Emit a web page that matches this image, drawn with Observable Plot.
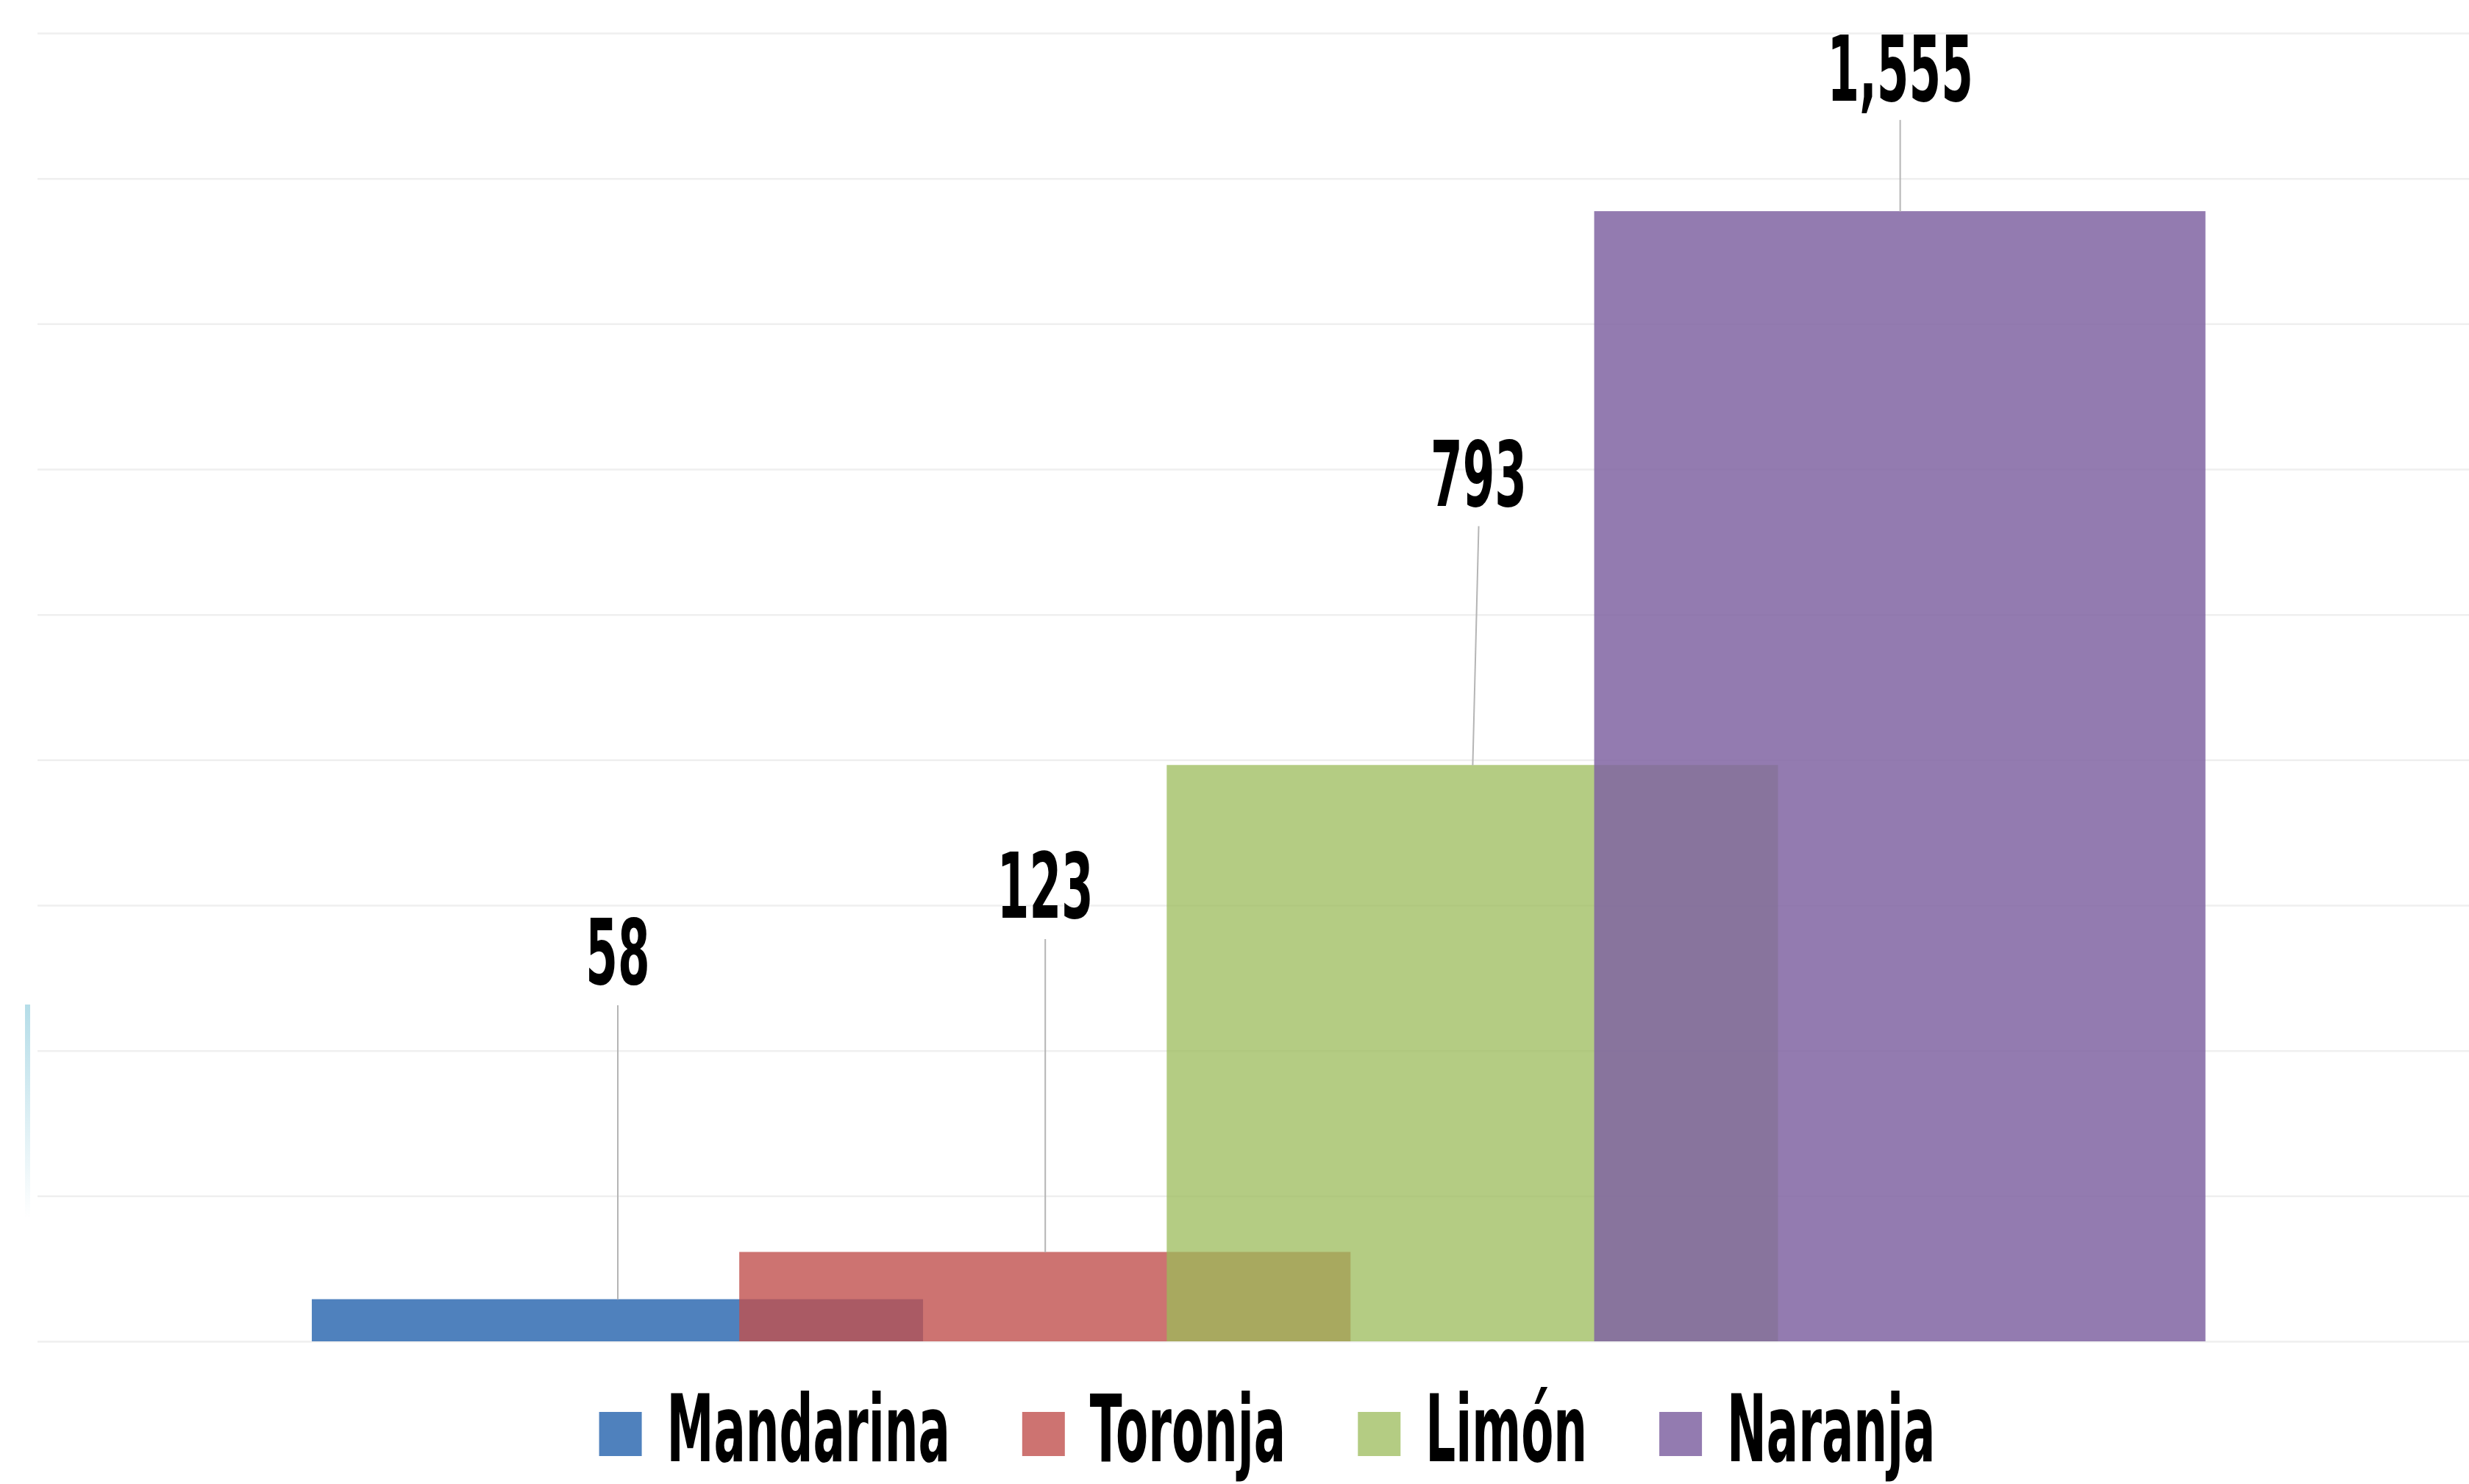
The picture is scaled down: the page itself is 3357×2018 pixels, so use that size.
<!DOCTYPE html>
<html><head><meta charset="utf-8">
<script src="https://cdn.jsdelivr.net/npm/d3@7"></script>
<script src="https://cdn.jsdelivr.net/npm/@observablehq/plot@0.6"></script>
<style>
html,body{margin:0;padding:0;background:#fff;}
#wrap{position:relative;width:3357px;height:2018px;overflow:hidden;background:#fff;}
#chart svg,#legend svg{display:block;overflow:visible;}
#artifact{position:absolute;left:34px;top:1366px;width:7px;height:290px;background:linear-gradient(#b5dde8, rgba(181,221,232,0));}
</style></head><body>
<div id="wrap"><div id="chart"></div><div id="legend"></div><div id="artifact"></div></div>
<script>
// ---- data ----
const fruits = ["Mandarina", "Toronja", "Limón", "Naranja"];
const values = [58, 123, 793, 1555];
const labelLineTop = [463, 554, 1122, 1681];   // where each leader line ends (value units)
const labelBase = [492, 583, 1150, 1707];      // baseline of each data label (value units)
const labelShift = [0, 0, 0.014, 0];           // small horizontal shift of label (category units)
const gridTicks = d3.range(0, 1801, 200);
const palette = ["#4f81bd", "#c0504d", "#9bbb59", "#8064a2"];
const alphas = [1, 0.8, 0.75, 0.85];

const rows = fruits.map((f, i) => ({fruit: f, i, value: values[i], lineTop: labelLineTop[i], base: labelBase[i], lx: i + labelShift[i]}));

// ---- layout ----
const W = 3357, H = 1830;
const mL = 51, mT = 45, mB = H - 1824;
const center0 = 839.5, step = 581.2, half = 0.715;
const xDomain = [(mL - center0) / step, (W - center0) / step];
const condense = 0.51;
const fontFam = "'DejaVu Sans', sans-serif";

const marks = [Plot.ruleY(gridTicks, {y: d => d, stroke: "#efefef", strokeWidth: 2.5})];
rows.forEach((r, k) => {
  marks.push(Plot.rectY([r], {
    x1: d => d.i - half, x2: d => d.i + half, y1: 0, y2: "value",
    fill: palette[k], fillOpacity: alphas[k]
  }));
});
marks.push(Plot.link(rows, {x1: "i", y1: "value", x2: "lx", y2: "lineTop", stroke: "#b5b5b5", strokeWidth: 2}));
marks.push(Plot.text(rows, {
  x: "lx", y: "base", text: d => d3.format(",")(d.value),
  lineAnchor: "bottom", textAnchor: "middle",
  fontSize: 123, fontWeight: "bold", fontFamily: fontFam, fill: "#000"
}));

const svg = Plot.plot({
  width: W, height: H,
  marginLeft: mL, marginRight: 0, marginTop: mT, marginBottom: mB,
  x: {type: "linear", domain: xDomain, axis: null},
  y: {domain: [0, 1800], axis: null},
  style: {background: "transparent", fontFamily: fontFam, overflow: "visible"},
  marks
});
document.getElementById("chart").appendChild(svg);

// condense the label glyphs horizontally
svg.querySelectorAll('g[aria-label="text"] text').forEach(t => {
  const tr = t.getAttribute("transform");
  if (tr) t.setAttribute("transform", tr + ` scale(${condense},1)`);
  else {
    const x = +t.getAttribute("x") || 0;
    t.setAttribute("transform", `translate(${x},0) scale(${condense},1) translate(${-x},0)`);
  }
});

// ---- legend ----
const LH = 2018 - H;
const top0 = 1880 - H;
const lsvg = d3.select("#legend").append("svg").attr("width", W).attr("height", LH);
const sw = 58, swH = 60, gapST = 34, gapItem = 98, legCenter = 1723;
const g = lsvg.append("g");
const items = fruits.map((f, k) => {
  const gi = g.append("g");
  gi.append("rect").attr("y", top0 + 40).attr("width", sw).attr("height", swH).attr("fill", palette[k]).attr("fill-opacity", alphas[k]);
  const t = gi.append("text").attr("y", top0 + 107).attr("font-size", 126).attr("font-weight", "bold")
    .attr("font-family", fontFam).attr("fill", "#000").text(f);
  const w = t.node().getComputedTextLength() * condense;
  t.attr("transform", `translate(${sw + gapST},0) scale(${condense},1)`);
  return {gi, w: sw + gapST + w};
});
const total = d3.sum(items, d => d.w) + gapItem * (items.length - 1);
let cx = legCenter - total / 2;
items.forEach(it => { it.gi.attr("transform", `translate(${cx},0)`); cx += it.w + gapItem; });
</script>
</body></html>
